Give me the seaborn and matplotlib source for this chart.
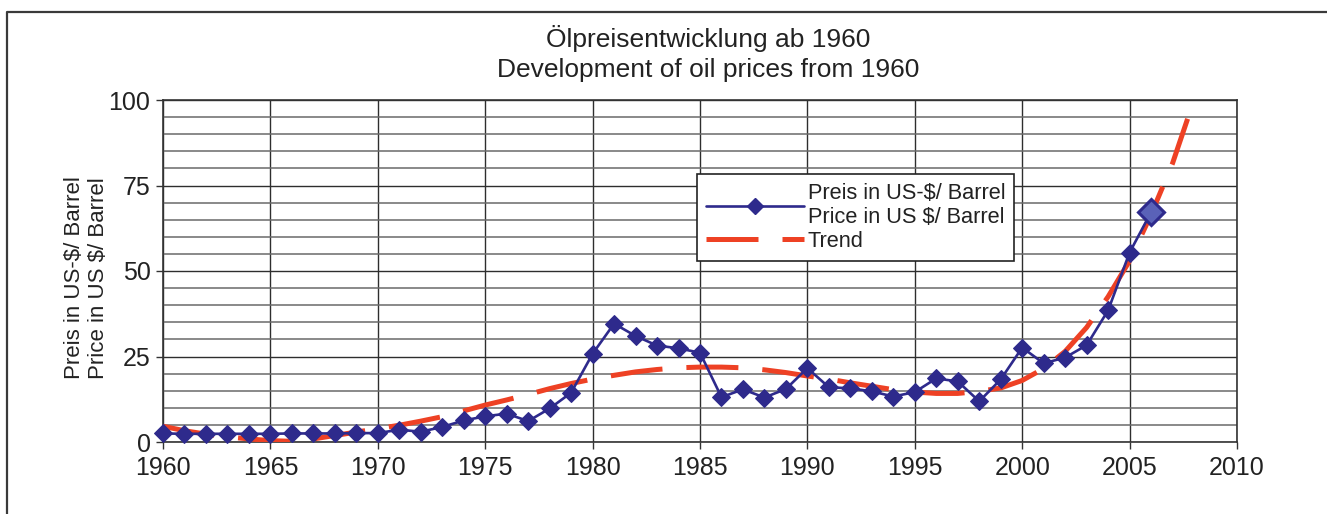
import matplotlib
matplotlib.use('Agg')
import matplotlib.pyplot as plt
import numpy as np
import pandas as pd
import seaborn as sns
from matplotlib.lines import Line2D
from matplotlib.ticker import MultipleLocator

years = list(range(1960, 2007))
price = [2.5, 2.4, 2.4, 2.4, 2.4, 2.4, 2.5, 2.5, 2.5, 2.6, 2.6,
         3.6, 3.0, 4.4, 6.3, 7.5, 8.3, 6.1, 9.8, 14.4, 25.8,
         34.6, 31.0, 28.2, 27.4, 26.1, 13.1, 15.4, 13.0, 15.5, 21.6,
         16.0, 15.7, 14.8, 13.3, 14.6, 18.6, 17.7, 11.9, 18.3, 27.6,
         23.0, 24.7, 28.3, 38.5, 55.4, 67.2]

trend_years = list(range(1960, 2008)) + [2007.7]
trend = [4.6, 3.3, 2.3, 1.5, 0.9, 0.4, 0.2, 0.9, 1.9, 2.9, 3.9,
         4.9, 6.1, 7.4, 9.1, 10.8, 12.3, 13.9, 15.6, 17.1, 18.4,
         19.5, 20.5, 21.2, 21.7, 21.9, 21.9, 21.7, 21.1, 20.3, 19.3,
         18.4, 17.3, 16.3, 15.3, 14.6, 14.2, 14.2, 14.8, 15.8, 18.0,
         21.5, 26.5, 33.5, 42.5, 53.0, 66.5, 81.5, 94.5]

title_de = 'Ölpreisentwicklung ab 1960'
title_en = 'Development of oil prices from 1960'
ylabel_de = 'Preis in US-$/ Barrel'
ylabel_en = 'Price in US $/ Barrel'
label_price = 'Preis in US-$/ Barrel\nPrice in US $/ Barrel'
label_trend = 'Trend'

BLUE = '#2e2a8c'
RED = '#ee4124'
TXT = '#222222'

sns.set_style('white')
plt.rcParams['font.family'] = ['Liberation Sans', 'DejaVu Sans']

df = pd.DataFrame({'Jahr': years, 'Preis': price})
df_trend = pd.DataFrame({'Jahr': trend_years, 'Trend': trend})

fig = plt.figure(figsize=(13.27, 5.14), dpi=100)
ax = fig.add_axes([163 / 1327, 1 - 442 / 514, 1074 / 1327, 342 / 514])

sns.lineplot(data=df_trend, x='Jahr', y='Trend', ax=ax, color=RED, lw=3.6,
             dashes=False, zorder=3)
ax.lines[-1].set_dashes((10.4, 4.8))
sns.lineplot(data=df, x='Jahr', y='Preis', ax=ax, color=BLUE, lw=1.9,
             marker='D', markersize=9.5, markeredgecolor=BLUE, zorder=4, clip_on=False)
# last year highlighted
last = df.tail(1)
ax.plot(last['Jahr'], last['Preis'], marker='D', ms=13, mfc='#5a62b8', mec=BLUE,
        mew=2.2, ls='none', zorder=5)

ax.set_xlim(1960, 2010)
ax.set_ylim(0, 100)
ax.xaxis.set_major_locator(MultipleLocator(5))
ax.yaxis.set_major_locator(MultipleLocator(25))
ax.yaxis.set_minor_locator(MultipleLocator(5))
ax.grid(which='major', axis='both', color='#2e2e2e', lw=1.0)
ax.grid(which='minor', axis='y', color='#6a6a6a', lw=1.1)
ax.set_axisbelow(True)
ax.tick_params(which='major', direction='out', length=5, width=1, color='#333333',
               labelsize=18, labelcolor=TXT, bottom=True, left=True)
ax.tick_params(axis='x', pad=5)
ax.tick_params(axis='y', pad=4)
ax.tick_params(which='minor', length=0)
for sp in ax.spines.values():
    sp.set_color('#333333')
    sp.set_linewidth(1.2)
ax.set_xlabel('')
ax.set_ylabel('')

handles = [Line2D([], [], color=BLUE, lw=1.9, marker='D', ms=8, mec=BLUE),
           Line2D([], [], color=RED, lw=3.6, dashes=(10.4, 4.8))]
leg = ax.legend(handles, [label_price, label_trend], loc='upper left',
                bbox_to_anchor=(0.497, 0.784), borderaxespad=0, fontsize=15.7,
                fancybox=False, edgecolor='#222222', framealpha=1, handlelength=4.5,
                handletextpad=0.2, labelspacing=0.14, borderpad=0.4)
leg.get_frame().set_linewidth(1.2)
for t in leg.get_texts():
    t.set_color(TXT)

fig.text(708 / 1327, 1 - 47 / 514, title_de, ha='center', va='baseline', fontsize=19, color=TXT)
fig.text(708 / 1327, 1 - 77 / 514, title_en, ha='center', va='baseline', fontsize=19, color=TXT)
fig.text(74 / 1327, 1 - 278 / 514, ylabel_de, rotation=90, ha='center', va='center',
         fontsize=16, color=TXT)
fig.text(99 / 1327, 1 - 278 / 514, ylabel_en, rotation=90, ha='center', va='center',
         fontsize=16, color=TXT)

# outer frame (left and top edge)
fig.add_artist(Line2D([7 / 1327, 7 / 1327, 1.0], [0.0, 1 - 12 / 514, 1 - 12 / 514],
                      transform=fig.transFigure, color='#3a3a3a', lw=1.6))

fig.savefig('out.png', dpi=100)
